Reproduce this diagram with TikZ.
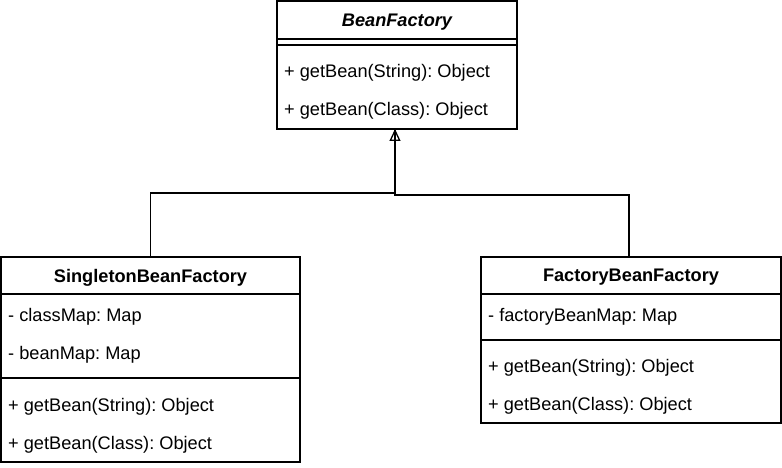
\documentclass[tikz,border=0pt]{standalone}
\usepackage{fontspec}
\setmainfont{Liberation Sans}
\frenchspacing
\usetikzlibrary{arrows.meta}

\begin{document}
\begin{tikzpicture}[x=1pt,y=-1pt,
    font=\fontsize{18.2}{21}\selectfont,
    compartment/.style={draw, line width=1.3pt, rectangle, inner sep=0pt, outer sep=0pt, anchor=north west},
    title/.style={font=\fontsize{18.2}{21}\selectfont\bfseries, text depth=0pt},
    member/.style={anchor=base west, inner sep=0pt},
    realization/.style={line width=1.3pt}]
  \useasboundingbox (0,0) rectangle (782,468);

  % BeanFactory
  \node[compartment, title, minimum width=240pt, minimum height=38pt] (bf) at (277,1) {\itshape BeanFactory};
  \node[compartment, minimum width=240pt, minimum height=6pt] (bfsep) at (bf.south west) {};
  \node[compartment, minimum width=240pt, minimum height=84pt] (bfops) at (bfsep.south west) {};
  \node[member] (bfop1) at (284,78) {+ getBean(String): Object};
  \node[member] (bfop2) at (284,116) {+ getBean(Class): Object};

  % SingletonBeanFactory
  \node[compartment, title, minimum width=299pt, minimum height=37pt] (sbf) at (1,257) {SingletonBeanFactory};
  \node[compartment, minimum width=299pt, minimum height=84pt] (sbfattr) at (sbf.south west) {};
  \node[compartment, minimum width=299pt, minimum height=84pt] (sbfops) at (sbfattr.south west) {};
  \node[member] (sbfattr1) at (8,321) {- classMap: Map};
  \node[member] (sbfattr2) at (8,359) {- beanMap: Map};
  \node[member] (sbfop1) at (8,411) {+ getBean(String): Object};
  \node[member] (sbfop2) at (8,449) {+ getBean(Class): Object};

  % FactoryBeanFactory
  \node[compartment, title, minimum width=300pt, minimum height=37pt] (fbf) at (481,257) {FactoryBeanFactory};
  \node[compartment, minimum width=300pt, minimum height=46pt] (fbfattr) at (fbf.south west) {};
  \node[compartment, minimum width=300pt, minimum height=83pt] (fbfops) at (fbfattr.south west) {};
  \node[member] (fbfattr1) at (488,321) {- factoryBeanMap: Map};
  \node[member] (fbfop1) at (488,372) {+ getBean(String): Object};
  \node[member] (fbfop2) at (488,410) {+ getBean(Class): Object};

  % realizations
  \draw[realization, -{Triangle[open, width=11pt, length=12pt]}] (sbf.north) -- ++(0,-64) -| ([xshift=-2pt]bfops.south);
  \draw[realization] ([xshift=-2pt]fbf.north) -- ++(0,-62) -| ([xshift=-2pt]bfops.south);
\end{tikzpicture}
\end{document}
